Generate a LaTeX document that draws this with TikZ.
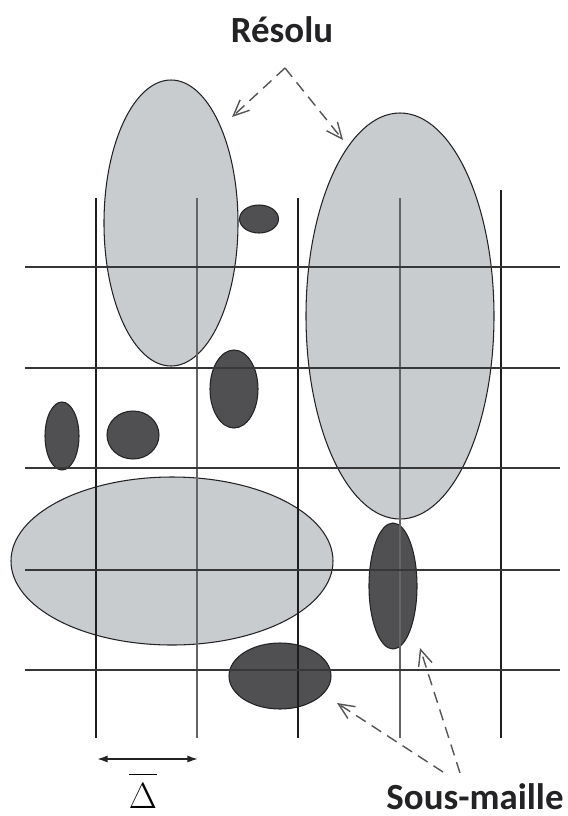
\documentclass[tikz,border=0pt]{standalone}
\usepackage{fontspec}
\setsansfont{Carlito}
\usetikzlibrary{
    arrows.meta,
    calc,
    positioning,
    shapes.geometric
}
\definecolor{ink}{RGB}{35,35,38}
\definecolor{coarse}{RGB}{30,30,30}
\definecolor{fine}{RGB}{100,100,100}
\definecolor{rowline}{RGB}{55,55,55}
\definecolor{resolved}{RGB}{201,204,207}
\definecolor{subgrid}{RGB}{80,80,82}
\definecolor{pointer}{RGB}{85,85,85}
\tikzset{
    line cap=round,
    line join=round,
    eddy/.style={
        ellipse,
        draw=ink,
        line width=0.6pt,
        inner sep=0pt
    },
    resolved eddy/.style={eddy, fill=resolved},
    subgrid eddy/.style={eddy, fill=subgrid},
    coarseline/.style={draw=coarse, line width=1pt},
    fineline/.style={draw=fine, line width=1.1pt},
    rowline/.style={draw=rowline, line width=1pt},
    pointer/.style={
        -{Straight Barb[length=9pt, width=8pt]},
        draw=pointer,
        line width=0.8pt,
        dash pattern=on 6.5pt off 4pt
    },
    span/.style={
        {Latex[length=6pt, width=4pt]}-{Latex[length=6pt, width=4pt]},
        draw=ink,
        line width=0.9pt
    },
    tag/.style={
        font=\sffamily\bfseries\fontsize{21}{25}\selectfont,
        text=ink,
        inner sep=0pt,
        anchor=base
    }
}

\begin{document}
\begin{tikzpicture}[x=0.02cm, y=-0.02cm]
\useasboundingbox (0,0) rectangle (568,816);

% Resolved eddies
\foreach \n/\cx/\cy/\w/\h in {resA/171/223/134/286, resB/400/316/188/406, resC/172/561/322/168} {
    \node[resolved eddy, minimum width=\w*0.02cm, minimum height=\h*0.02cm] (\n) at (\cx,\cy) {};
}

% Sub-grid eddies
\foreach \n/\cx/\cy/\w/\h in {sgA/259/219/39/28, sgB/234/389/48/78, sgC/62/436/34/68, sgD/133/435/52/48, sgE/393/586/48/126, sgF/280/676/102/66} {
    \node[subgrid eddy, minimum width=\w*0.02cm, minimum height=\h*0.02cm] (\n) at (\cx,\cy) {};
}

% Mesh
\foreach \x in {96, 298} {
    \draw[coarseline] (\x,198) -- (\x,738);
}
\draw[coarseline] (501,190) -- (501,738);
\foreach \x in {197, 400} {
    \draw[fineline] (\x,198) -- (\x,738);
}
\foreach \y in {267, 368, 468, 570, 670} {
    \draw[rowline] (25,\y) -- (560,\y);
}

% Labels
\node[tag] (resolu) at (282,42) {Résolu};
\node[tag] (sousmaille) at (475,809) {Sous-maille};
\node[inner sep=0pt, anchor=base, font=\fontsize{20}{24}\selectfont] (delta) at (143,808)
    {$\overline{\Delta\rule{0pt}{17.7pt}}$};

% Pointers
\coordinate (rApex) at (285,68);
\coordinate (tipA) at (232,117);
\coordinate (tipB) at (343,140);
\draw[pointer] (rApex) -- (tipA);
\draw[pointer] (rApex) -- (tipB);

\coordinate (sStartE) at (443,772);
\coordinate (sStartF) at (460,773);
\coordinate (tipE) at (420,648);
\coordinate (tipF) at (337,703);
\draw[pointer] (sStartF) -- (tipE);
\draw[pointer] (sStartE) -- (tipF);

% Filter width
\coordinate (dL) at (97,759);
\coordinate (dR) at (198,759);
\draw[span] (dL) -- (dR);
\end{tikzpicture}
\end{document}
